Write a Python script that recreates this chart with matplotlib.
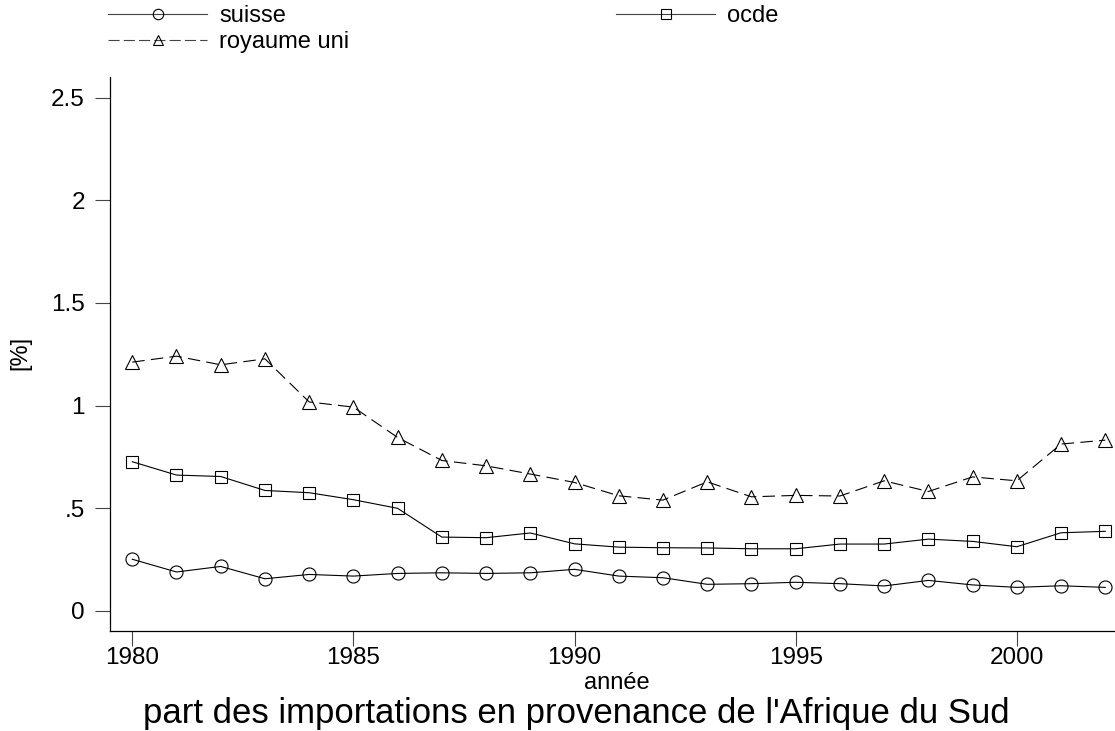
import numpy as np
import matplotlib
matplotlib.use("Agg")
import matplotlib.pyplot as plt
from matplotlib.lines import Line2D

plt.rcParams['font.family'] = ['Liberation Sans', 'DejaVu Sans']
plt.rcParams['lines.scale_dashes'] = False

years = np.arange(1980, 2003)

suisse = [0.252, 0.190, 0.217, 0.157, 0.178, 0.170, 0.183, 0.186, 0.183, 0.186,
          0.203, 0.170, 0.162, 0.130, 0.133, 0.140, 0.133, 0.122, 0.149, 0.127,
          0.115, 0.123, 0.115]
ocde = [0.727, 0.662, 0.655, 0.587, 0.576, 0.542, 0.500, 0.360, 0.357, 0.380,
        0.327, 0.311, 0.308, 0.307, 0.303, 0.303, 0.326, 0.326, 0.350, 0.339,
        0.313, 0.381, 0.388]
royaume_uni = [1.212, 1.241, 1.199, 1.228, 1.018, 0.993, 0.845, 0.733, 0.707, 0.667,
               0.626, 0.561, 0.540, 0.629, 0.556, 0.563, 0.560, 0.634, 0.582, 0.653,
               0.634, 0.813, 0.832]

yticks = [0, 0.5, 1, 1.5, 2, 2.5]
ytick_labels = ['0', '.5', '1', '1.5', '2', '2.5']
xticks = [1980, 1985, 1990, 1995, 2000]

W, H = 1115, 731
fig = plt.figure(figsize=(W / 100, H / 100), dpi=100)
ax = fig.add_axes([109.7 / W, 1 - 631 / H, 1 - 109.7 / W, (631 - 76.7) / H])

lw = 0.8
ax.plot(years, suisse, color='black', lw=lw, marker='o', ms=9.4,
        mfc='none', mec='black', mew=0.8, label='suisse')
ax.plot(years, ocde, color='black', lw=lw, marker='s', ms=8.8,
        mfc='none', mec='black', mew=0.8, label='ocde')
ax.plot(years, royaume_uni, color='black', lw=lw, marker='^', ms=9.6,
        mfc='none', mec='black', mew=0.8, ls=(0, (9, 4.5)), label='royaume uni')

ax.set_xlim(1979.49, 2002.22)
ax.set_ylim(-0.0974, 2.602)
ax.set_yticks(yticks)
ax.set_yticklabels(ytick_labels)
ax.set_xticks(xticks)
for s in ['top', 'right']:
    ax.spines[s].set_visible(False)
for s in ['left', 'bottom']:
    ax.spines[s].set_linewidth(0.9)
ax.tick_params(axis='both', direction='out', length=10.8, width=0.8,
               colors='#444444', labelcolor='black', labelsize=17.5)
ax.tick_params(axis='y', pad=7)
ax.tick_params(axis='x', pad=1)

fig.text(20 / W, 1 - 353 / H, '[%]', rotation=90, ha='center', va='center', fontsize=17)
fig.text(617 / W, 1 - 683 / H, 'année', ha='center', va='center', fontsize=17)
fig.text(576 / W, 1 - 713 / H, "part des importations en provenance de l'Afrique du Sud",
         ha='center', va='center', fontsize=25)

# legend: two pieces, placed like the stata key
h1 = Line2D([], [], color='#444444', lw=0.8, marker='o', ms=7.5, mfc='none', mec='black', mew=0.8)
h3 = Line2D([], [], color='#444444', lw=0.8, marker='^', ms=7, mfc='none', mec='black', mew=0.8,
            ls=(0, (8, 3)))
h2 = Line2D([], [], color='#444444', lw=0.8, marker='s', ms=7, mfc='none', mec='black', mew=0.8)

leg_kw = dict(frameon=False, fontsize=17, handlelength=4.2, handletextpad=0.5,
              borderpad=0, borderaxespad=0, labelspacing=0.18, loc='upper left')
fig.legend([h1, h3], ['suisse', 'royaume uni'],
           bbox_to_anchor=(108 / W, 1 - 5 / H), **leg_kw)
fig.legend([h2], ['ocde'], bbox_to_anchor=(616 / W, 1 - 5 / H), **leg_kw)

fig.savefig('out.png', dpi=100)
